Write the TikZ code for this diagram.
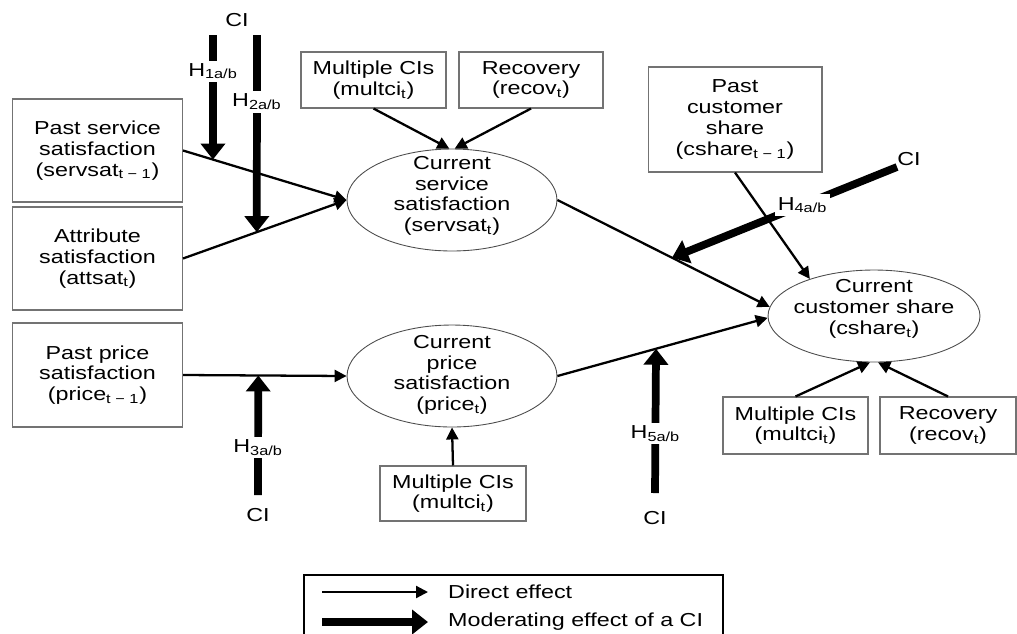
\documentclass[tikz,border=0pt]{standalone}
\usepackage{fontspec}
\setmainfont{Liberation Sans}[FakeStretch=1.24]
\usetikzlibrary{positioning, arrows.meta, calc, shapes.geometric}
\newcommand{\lo}[1]{\textsubscript{#1}}
\tikzset{
    varbox/.style={
        rectangle,
        draw=black!55,
        line width=0.6pt,
        align=center,
        inner sep=2pt
    },
    state/.style={
        ellipse,
        draw=black!70,
        line width=0.5pt,
        minimum width=4.2cm,
        minimum height=2.04cm
    },
    direct/.style={
        line width=1.3pt,
        -{Triangle[length=0.24cm,width=0.24cm]}
    },
    moder/.style={
        line width=4.4pt,
        -{Triangle[length=0.32cm,width=0.48cm]}
    },
    hlab/.style={
        fill=white,
        inner sep=1.5pt
    }
}

\begin{document}
\begin{tikzpicture}[x=0.02cm, y=-0.02cm, font=\fontsize{10.7}{11.8}\selectfont]
\useasboundingbox (0,0) rectangle (1017,633);

% left column
\node[varbox, minimum width=3.4cm, minimum height=2.06cm] (prevserv) at (97.5,150.5) {Past service\\satisfaction\\(servsat\lo{t − 1})};
\node[varbox, minimum width=3.4cm, minimum height=2.06cm] (attsat) at (97.5,258.5) {Attribute\\satisfaction\\(attsat\lo{t})};
\node[varbox, minimum width=3.4cm, minimum height=2.08cm] (pprice) at (97.5,375) {Past price\\satisfaction\\(price\lo{t − 1})};

% top boxes
\node[varbox, minimum width=2.9cm, minimum height=1.12cm] (mci1) at (373.5,80) {Multiple CIs\\(multci\lo{t})};
\node[varbox, minimum width=2.88cm, minimum height=1.12cm] (recov1) at (531,80) {Recovery\\(recov\lo{t})};
\node[varbox, minimum width=3.48cm, minimum height=2.1cm] (pcshare) at (735,119.5) {Past\\customer\\share\\(cshare\lo{t − 1})};

% states
\node[state] (servsat) at (452,200) {};
\node[align=center] (servsat-txt) at (452,196) {Current\\service\\satisfaction\\(servsat\lo{t})};
\node[state] (pricesat) at (452,376) {};
\node[align=center] (pricesat-txt) at (452,375) {Current\\price\\satisfaction\\(price\lo{t})};
\node[state, minimum width=4.24cm, minimum height=1.84cm] (cshare) at (874,316) {};
\node[align=center] (cshare-txt) at (874,309) {Current\\customer share\\(cshare\lo{t})};

% bottom boxes
\node[varbox, minimum width=2.92cm, minimum height=1.1cm] (mci2) at (453,493.5) {Multiple CIs\\(multci\lo{t})};
\node[varbox, minimum width=2.9cm, minimum height=1.14cm] (mci3) at (795.5,425.5) {Multiple CIs\\(multci\lo{t})};
\node[varbox, minimum width=2.72cm, minimum height=1.14cm] (recov2) at (948,425.5) {Recovery\\(recov\lo{t})};

% direct effects
\draw[direct] (prevserv.east) -- (servsat.west);
\draw[direct] (attsat.east) -- (servsat.west);
\draw[direct] (mci1.south) -- (servsat.93);
\draw[direct] (recov1.south) -- (servsat.87);
\draw[direct] (pprice.east) -- (pricesat.west);
\draw[direct] (mci2.north) -- (pricesat.south);
\draw[direct] (servsat.east) -- (cshare.175);
\draw[direct] (pricesat.east) -- (cshare.181);
\draw[direct] (pcshare.south) -- (cshare.150);
\draw[direct] (mci3.north) -- (cshare.265);
\draw[direct] (recov2.north) -- (cshare.275);

% moderating effects
\coordinate (m1) at ($(prevserv.east)!0.183!(servsat.west)$);
\coordinate (m2) at ($(attsat.east)!0.451!(servsat.west)$);
\coordinate (m3) at ($(pprice.east)!0.46!(pricesat.west)$);
\coordinate (m4) at ($(servsat.east)!0.54!(cshare.175)$);
\coordinate (m5) at ($(pricesat.east)!0.469!(cshare.181)$);

\node (ci12) at (237,20) {CI};
\coordinate (h1) at (213,35);
\coordinate (h2) at (257,35);
\draw[moder] (h1) -- node[hlab, pos=0.29] (h1-lab) {H\lo{1a/b}} (m1);
\draw[moder] (h2) -- node[hlab, pos=0.34] (h2-lab) {H\lo{2a/b}} (m2);

\node (ci3) at (258,515) {CI};
\coordinate (h3) at (258,495);
\draw[moder] (h3) -- node[hlab, pos=0.4] (h3-lab) {H\lo{3a/b}} (m3);

\node (ci5) at (655,518) {CI};
\coordinate (h5) at (655,493);
\draw[moder] (h5) -- node[hlab, pos=0.41] (h5-lab) {H\lo{5a/b}} (m5);

\node (ci4) at (909,159) {CI};
\coordinate (h4) at (897,167);
\draw[moder] (h4) -- node[hlab, pos=0.42] (h4-lab) {H\lo{4a/b}} (m4);

% legend
\draw[line width=0.7pt] (304,640) |- (723,575) -- (723,640);
\coordinate (l1a) at (322,592);
\coordinate (l1b) at (428,592);
\coordinate (l2a) at (322,622);
\coordinate (l2b) at (428,622);
\draw[direct] (l1a) -- (l1b);
\draw[moder] (l2a) -- (l2b);
\node[anchor=west] (leg1) at (442,592) {Direct effect};
\node[anchor=west] (leg2) at (442,622) {Moderating effect of a CI};

\end{tikzpicture}
\end{document}
